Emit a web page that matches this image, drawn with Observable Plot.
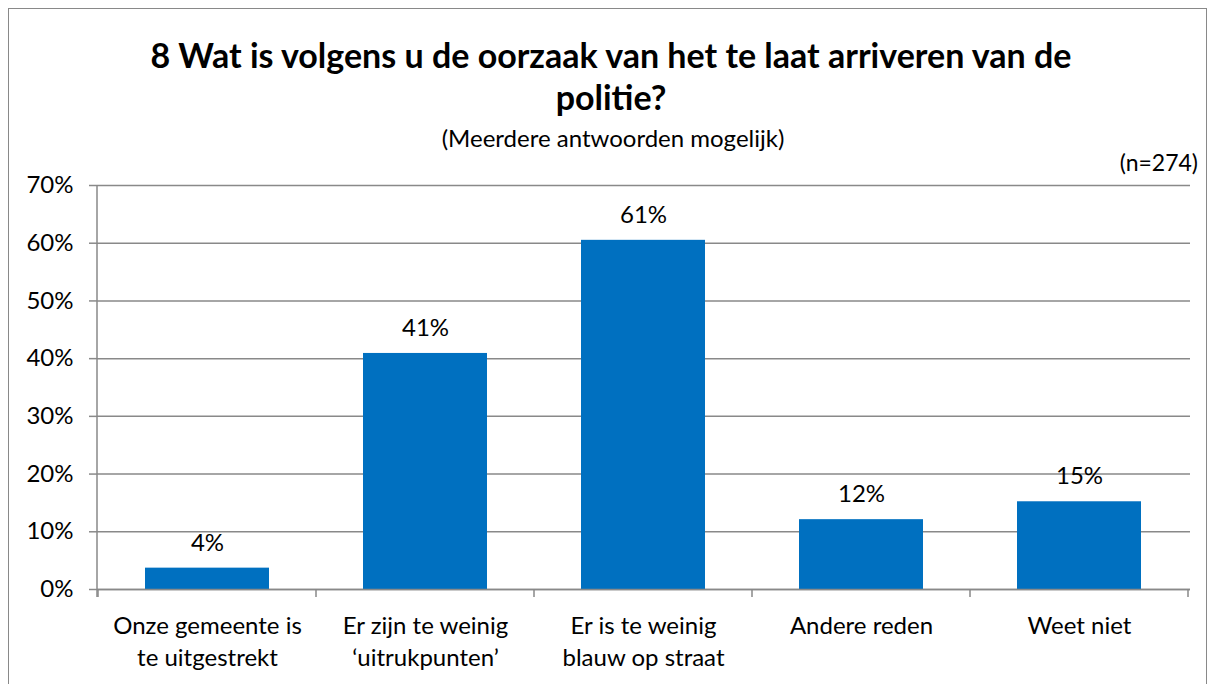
<!DOCTYPE html>
<html><head><meta charset="utf-8">
<script src="https://cdn.jsdelivr.net/npm/d3@7"></script>
<script src="https://cdn.jsdelivr.net/npm/@observablehq/plot@0.6"></script>
<style>
body{margin:0;background:#fff;font-family:Lato,"Open Sans",sans-serif;color:#000}
#wrap{position:relative;width:1215px;height:684px;overflow:hidden}
#frame{position:absolute;left:8px;top:8px;width:1199px;height:700px;border:1.5px solid #898989;box-sizing:border-box}
#title{position:absolute;left:0;width:1222px;top:34px;text-align:center;font-weight:bold;font-size:34px;line-height:42px}
#subtitle{position:absolute;left:0;width:1226px;top:125px;text-align:center;font-size:24px;line-height:26px}
#n{position:absolute;right:17px;top:149px;font-size:23px;line-height:26px}
#chart{position:absolute;left:0;top:165px}
</style></head>
<body>
<div id="wrap">
  <div id="frame"></div>
  <div id="title">8 Wat is volgens u de oorzaak van het te laat arriveren van de<br>politie?</div>
  <div id="subtitle">(Meerdere antwoorden mogelijk)</div>
  <div id="n">(n=274)</div>
  <div id="chart"></div>
</div>
<script>
const categories = [
  "Onze gemeente is\nte uitgestrekt",
  "Er zijn te weinig\n‘uitrukpunten’",
  "Er is te weinig\nblauw op straat",
  "Andere reden",
  "Weet niet"
];
const values = [3.7, 40.9, 60.5, 12.1, 15.2];
const valueLabels = ["4%", "41%", "61%", "12%", "15%"];
const yTicks = [0, 10, 20, 30, 40, 50, 60, 70];

const data = categories.map((c, i) => ({cat: c, value: values[i], label: valueLabels[i]}));
const grey = "#898989";

const plot = Plot.plot({
  width: 1215, height: 514,
  marginLeft: 97, marginRight: 25, marginTop: 20, marginBottom: 90,
  style: {fontFamily: "Lato, 'Open Sans', sans-serif", fontSize: "24px", color: "#000", background: "transparent"},
  x: {domain: categories, paddingInner: 0.43, paddingOuter: 0.215, label: null},
  y: {domain: [0, 70], label: null},
  marks: [
    Plot.gridY(yTicks, {stroke: grey, strokeOpacity: 1, strokeWidth: 1.5}),
    Plot.axisY(yTicks, {tickSize: 8, tickPadding: 16, tickFormat: d => d + "%", stroke: grey, strokeWidth: 1.5, fill: "#000", fontSize: 24, label: null}),
    Plot.barY(data, {x: "cat", y: "value", fill: "#0070C0"}),
    Plot.text(data, {x: "cat", y: "value", text: "label", dy: -25, fontSize: 24, fill: "#000"}),
    Plot.axisX({tickSize: 0, tickPadding: 21, lineHeight: 1.35, fontSize: 24, fill: "#000", label: null}),
    Plot.ruleY([0], {stroke: grey, strokeWidth: 1.5})
  ]
});

// axis line and category boundary ticks derived from the plot's scales
const xs = plot.scale("x"), ys = plot.scale("y");
const svg = d3.select(plot);
const y0 = ys.apply(0), yTop = ys.apply(70);
const [xl, xr] = xs.range;
svg.append("line").attr("x1", xl).attr("x2", xl).attr("y1", yTop).attr("y2", y0 + 8)
  .attr("stroke", grey).attr("stroke-width", 1.5);
const gap = (xs.step - xs.bandwidth) / 2;
const bounds = categories.map(c => xs.apply(c) - gap).concat([xs.apply(categories[categories.length - 1]) + xs.bandwidth + gap]);
svg.append("g").selectAll("line").data(bounds).join("line")
  .attr("x1", d => d).attr("x2", d => d).attr("y1", y0).attr("y2", y0 + 8)
  .attr("stroke", grey).attr("stroke-width", 1.5);

document.getElementById("chart").appendChild(plot);
</script>
</body></html>
